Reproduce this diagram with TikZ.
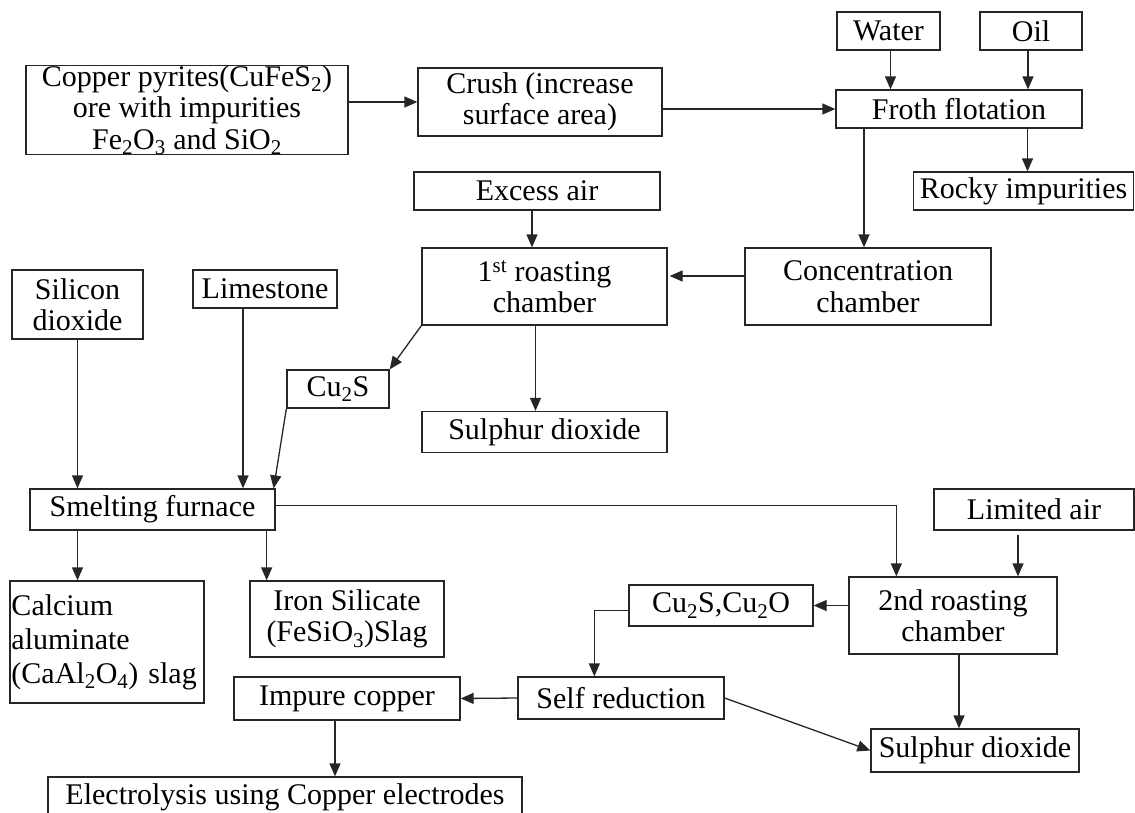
\documentclass[tikz,border=0pt]{standalone}
\usepackage{fontspec}
\setmainfont{Liberation Serif}
\usetikzlibrary{arrows.meta,calc}
\begin{document}
\begin{tikzpicture}[x=1pt,y=-1pt,
  box/.style={draw=black!85, line width=1.3pt, inner sep=0pt, align=center, font=\fontsize{30}{31.5}\selectfont},
  arr/.style={draw=black!85, line width=1.3pt, -{Triangle[length=13pt,width=11pt]}}]
\useasboundingbox (0,0) rectangle (1135,812);
\clip (0,0) rectangle (1135,812);
% boxes
\node[box, minimum width=103pt, minimum height=38pt] (water) at (888.5,31) {Water};
\node[box, minimum width=102pt, minimum height=38pt] (oil) at (1031,31) {Oil};
\node[box, minimum width=322pt, minimum height=88pt] (copper) at (187,110) {Copper pyrites(CuFeS\textsubscript{2})\\ore with impurities\\Fe\textsubscript{2}O\textsubscript{3} and SiO\textsubscript{2}};
\node[box, minimum width=244pt, minimum height=68pt] (crush) at (540,102) {Crush (increase\\surface area)};
\node[box, minimum width=246pt, minimum height=38pt] (froth) at (959,109) {Froth flotation};
\node[box, minimum width=220pt, minimum height=38pt] (rocky) at (1023.5,191) {Rocky impurities};
\node[box, minimum width=246pt, minimum height=38pt] (excess) at (537,191) {Excess air};
\node[box, minimum width=245pt, minimum height=77pt] (roastA) at (544.5,286.5) {1\textsuperscript{st} roasting\\chamber};
\node[box, minimum width=246pt, minimum height=77pt] (conc) at (868,286.5) {Concentration\\chamber};
\node[box, minimum width=131pt, minimum height=69pt] (silicon) at (77.5,304.5) {Silicon\\dioxide};
\node[box, minimum width=144pt, minimum height=38pt] (lime) at (265,289) {Limestone};
\node[box, minimum width=102pt, minimum height=38pt] (cus) at (338,389) {Cu\textsubscript{2}S};
\node[box, minimum width=245pt, minimum height=41pt] (sulphA) at (544.5,432) {Sulphur dioxide};
\node[box, minimum width=245pt, minimum height=41pt] (smelt) at (152.5,509.5) {Smelting furnace};
\node[box, minimum width=200pt, minimum height=41pt] (limited) at (1034,509.5) {Limited air};
\node[box, minimum width=194pt, minimum height=122pt, text width=191pt, align=left, font=\fontsize{30}{34}\selectfont] (calcium) at (107,642) {Calcium\\aluminate\\(CaAl\textsubscript{2}O\textsubscript{4}) slag};
\node[box, minimum width=194pt, minimum height=76pt] (iron) at (347,619) {Iron Silicate\\(FeSiO\textsubscript{3})Slag};
\node[box, minimum width=184pt, minimum height=41pt] (cuo) at (721,605.5) {Cu\textsubscript{2}S,Cu\textsubscript{2}O};
\node[box, minimum width=208pt, minimum height=77pt] (roastB) at (953,615.5) {2nd roasting\\chamber};
\node[box, minimum width=226pt, minimum height=43pt] (impure) at (347,698.5) {Impure copper};
\node[box, minimum width=206pt, minimum height=42pt] (self) at (621,698) {Self reduction};
\node[box, minimum width=208pt, minimum height=43pt] (sulphB) at (975,750.5) {Sulphur dioxide};
\node[box, minimum width=474pt, minimum height=40pt] (electro) at (285,797) {Electrolysis using Copper electrodes};
% connectors
\draw[arr] (copper.east |- crush.west) -- (crush.west);
\draw[arr] (crush.east |- froth.west) -- (froth.west);
\draw[arr] ([xshift=2pt]water.south) -- ([xshift=2pt]water.south |- froth.north);
\draw[arr] ([xshift=-3pt]oil.south) -- ([xshift=-3pt]oil.south |- froth.north);
\draw[arr] ([xshift=4pt]froth.south -| rocky.north) -- ([xshift=4pt]rocky.north);
\draw[arr] ([xshift=-4pt]froth.south -| conc.north) -- ([xshift=-4pt]conc.north);
\draw[arr] ([yshift=10.5pt]conc.west) -- ([yshift=10.5pt,xshift=2pt]roastA.east);
\draw[arr] ([xshift=-5pt]excess.south) -- ([xshift=-5pt]excess.south |- roastA.north);
\draw[arr] (roastA.south west) -- (cus.north east);
\draw[arr] ([xshift=-9pt]roastA.south) -- ([xshift=-9pt]sulphA.north);
\draw[arr] (silicon.south) -- (silicon.south |- smelt.north);
\draw[arr] ([xshift=-22pt]lime.south) -- ([xshift=-22pt]lime.south |- smelt.north);
\draw[arr] (cus.south west) -- ([xshift=-2pt]smelt.north east);
\draw[arr] (smelt.south -| silicon.south) -- (calcium.north -| silicon.south);
\draw[arr] ([xshift=-9pt]smelt.south east) -- ([xshift=-9pt]smelt.south east |- iron.north);
\draw[arr] ([yshift=4pt]smelt.east) -| ([xshift=48pt]roastB.north west);
\draw[arr] ([xshift=-16pt,yshift=-4pt]limited.south) -- ([xshift=-16pt]limited.south |- roastB.north);
\draw[arr] (roastB.west |- cuo.east) -- (cuo.east);
\draw[arr] ([yshift=-5pt]cuo.west) -| ([xshift=77pt]self.north west);
\draw[arr] (self.west) -- (impure.east);
\draw[arr] ([xshift=6pt]roastB.south) -- ([xshift=6pt]roastB.south |- sulphB.north);
\draw[arr] (self.east) -- (sulphB.west);
\draw[arr] ([xshift=-12pt]impure.south) -- ([xshift=-12pt]impure.south |- electro.north);
\end{tikzpicture}
\end{document}
